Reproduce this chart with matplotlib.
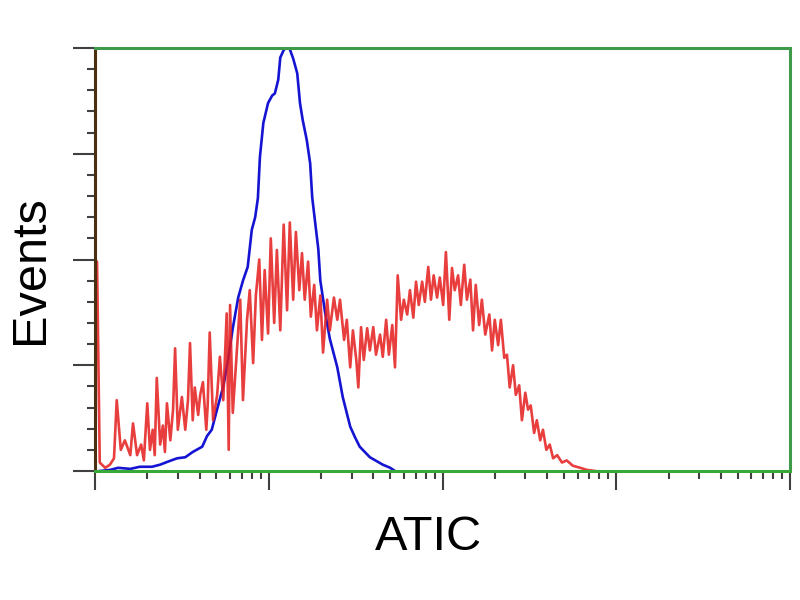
import numpy as np
import matplotlib
matplotlib.use('Agg')
import matplotlib.pyplot as plt
from matplotlib.ticker import LogLocator, MultipleLocator, NullFormatter

# histogram channels (1024 channels over 4 decades, 256 per decade) and event counts
red_ch = [0, 3, 7, 15, 22, 28, 32, 38, 44, 52, 56, 62, 68, 72, 77, 81, 85, 88, 91, 96,
          100, 103, 106, 111, 115, 118, 122, 128, 133, 137, 140, 144, 147, 152, 155, 159,
          164, 166, 169, 174, 180, 184, 189, 194, 197, 199, 203, 209, 214, 218, 224, 228,
          233, 237, 242, 246, 250, 255, 259, 264, 268, 273, 278, 283, 287, 292, 296, 301,
          305, 309, 314, 318, 323, 327, 332, 336, 342, 346, 352, 357, 361, 367, 371, 376,
          380, 385, 388, 392, 396, 401, 405, 410, 414, 420, 424, 429, 433, 438, 442, 446,
          451, 455, 460, 464, 469, 473, 477, 482, 486, 491, 495, 499, 504, 508, 513, 517,
          522, 526, 530, 535, 539, 544, 548, 553, 557, 561, 566, 570, 575, 581, 585, 589,
          594, 598, 603, 607, 611, 616, 620, 625, 629, 634, 638, 642, 647, 651, 656, 660,
          665, 670, 675, 681, 688, 695, 704, 715, 725, 737]
red_counts = [198, 198, 8, 3, 6, 12, 67, 20, 29, 15, 45, 15, 25, 10, 64, 20, 39, 15, 88, 25,
              43, 18, 64, 29, 58, 116, 39, 70, 39, 67, 121, 48, 79, 53, 72, 84,
              39, 62, 131, 48, 72, 108, 67, 149, 20, 157, 55, 114, 162, 67, 143, 171,
              102, 166, 200, 124, 190, 130, 220, 140, 209, 133, 233, 152, 235, 162, 226, 171,
              206, 162, 198, 146, 176, 133, 166, 112, 162, 133, 164, 143, 162, 124, 143, 98,
              133, 105, 79, 136, 105, 135, 114, 136, 110, 129, 108, 143, 110, 138, 98, 185,
              143, 162, 148, 171, 145, 179, 157, 179, 160, 193, 162, 185, 164, 183, 157, 207,
              143, 192, 171, 185, 157, 195, 162, 181, 133, 176, 138, 162, 129, 148, 114, 143,
              119, 143, 107, 110, 79, 100, 72, 81, 48, 74, 58, 62, 36, 48, 29, 39,
              20, 25, 12, 15, 8, 10, 5, 3, 1, 0]

blue_ch = [7, 22, 34, 52, 66, 84, 96, 108, 121, 133, 144, 158, 165, 172, 181, 189, 196, 203,
           211, 218, 225, 231, 236, 240, 243, 248, 255, 261, 265, 270, 273, 278, 281, 287,
           292, 298, 302, 306, 312, 317, 320, 324, 329, 332, 339, 346, 357, 365, 376, 383,
           390, 405, 424, 435, 442]
blue_counts = [0, 1, 3, 2, 4, 4, 6, 9, 12, 13, 18, 23, 33, 39, 61, 80, 105, 135,
               164, 180, 193, 228, 240, 258, 297, 329, 348, 355, 357, 370, 391, 398, 400, 399,
               390, 376, 348, 332, 313, 291, 259, 237, 210, 180, 150, 125, 98, 70, 42, 32,
               23, 13, 6, 3, 0]

assert len(red_ch) == len(red_counts)
assert len(blue_ch) == len(blue_counts)

red_x = 10 ** (np.array(red_ch) / 256)
blue_x = 10 ** (np.array(blue_ch) / 256)

plt.rcParams['font.family'] = ['Liberation Sans', 'DejaVu Sans']

fig = plt.figure(figsize=(8, 6), dpi=100)
ax = fig.add_axes([0.11875, 0.215, 0.86875, 0.705])

ax.plot(blue_x, blue_counts, color='#1414d2', lw=1.9)
ax.plot(red_x, red_counts, color='#e41c1c', lw=1.9, alpha=0.85)

ax.set_xscale('log')
ax.set_xlim(1, 1e4)
ax.set_ylim(0, 400)

ax.xaxis.set_major_locator(LogLocator(base=10, numticks=10))
ax.xaxis.set_minor_locator(LogLocator(base=10, subs=np.arange(2, 10), numticks=20))
ax.xaxis.set_major_formatter(NullFormatter())
ax.xaxis.set_minor_formatter(NullFormatter())
ax.yaxis.set_major_locator(MultipleLocator(100))
ax.yaxis.set_minor_locator(MultipleLocator(20))
ax.yaxis.set_major_formatter(NullFormatter())

ax.tick_params(axis='x', which='major', length=14, width=1.5, color='#404040', direction='out')
ax.tick_params(axis='x', which='minor', length=6, width=1.5, color='#404040', direction='out')
ax.tick_params(axis='y', which='major', length=16, width=1.5, color='#404040', direction='out')
ax.tick_params(axis='y', which='minor', length=6, width=1.5, color='#404040', direction='out')

for side in ['top', 'right', 'bottom']:
    ax.spines[side].set_color('#3f9a4a')
    ax.spines[side].set_linewidth(2.2)
ax.spines['bottom'].set_color('#38a838')
ax.spines['left'].set_color('#4a3010')
ax.spines['left'].set_linewidth(2.2)

fig.text(0.038, 0.55, 'Events', rotation=90, fontsize=35, ha='center', va='center')
fig.text(0.535, 0.105, 'ATIC', fontsize=35, ha='center', va='center')

fig.savefig('out.png', dpi=100)
